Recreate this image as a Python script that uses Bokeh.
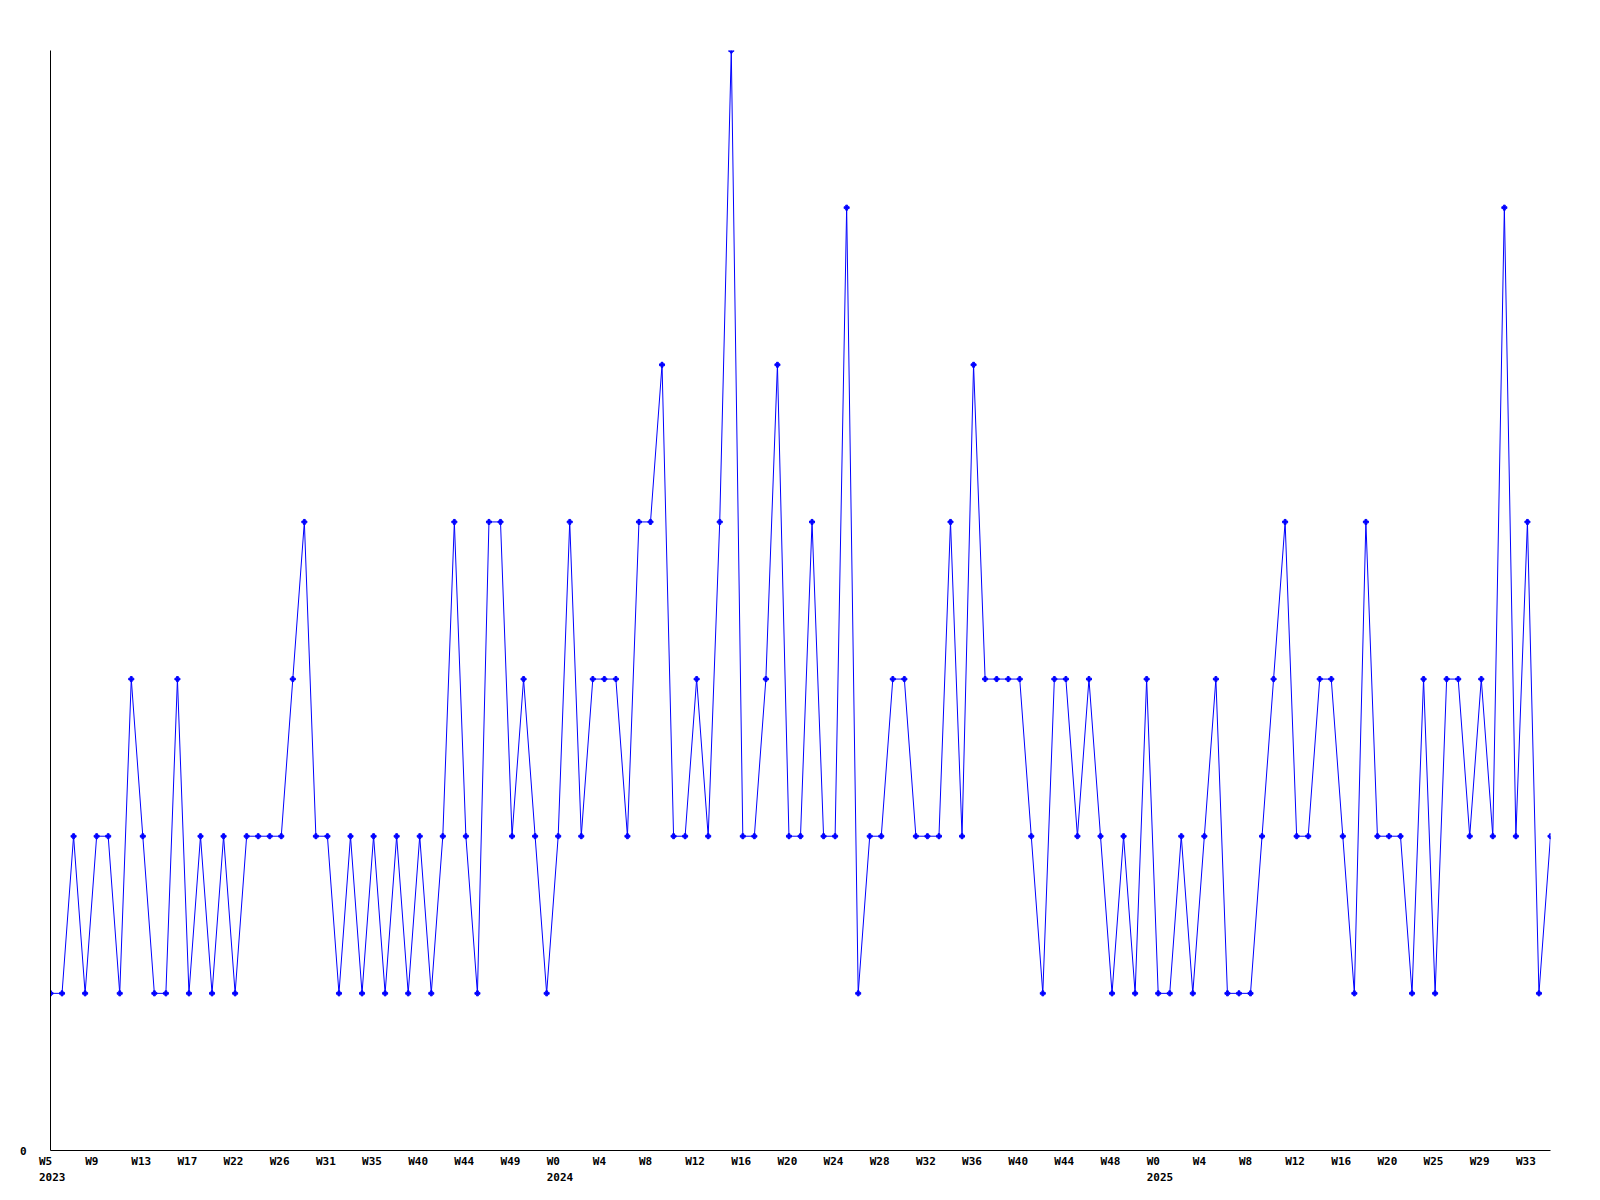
from bokeh.plotting import figure
from bokeh.models import Range1d, FixedTicker
from bokeh.embed import file_html
from bokeh.resources import INLINE

# ---- data ----
values = [1, 1, 2, 1, 2, 2, 1, 3, 2, 1, 1, 3, 1, 2, 1, 2, 1, 2, 2, 2,
          2, 3, 4, 2, 2, 1, 2, 1, 2, 1, 2, 1, 2, 1, 2, 4, 2, 1, 4,
          4, 2, 3, 2, 1, 2, 4, 2, 3, 3, 3, 2, 4, 4, 5, 2, 2, 3, 2,
          4, 7, 2, 2, 3, 5, 2, 2, 4, 2, 2, 6, 1, 2, 2, 3, 3, 2, 2,
          2, 4, 2, 5, 3, 3, 3, 3, 2, 1, 3, 3, 2, 3, 2, 1, 2, 1, 3,
          1, 1, 2, 1, 2, 3, 1, 1, 1, 2, 3, 4, 2, 2, 3, 3, 2, 1, 4,
          2, 2, 2, 1, 3, 1, 3, 3, 2, 3, 2, 6, 2, 4, 1, 2]

tick_index = list(range(0, 129, 4))
week_labels = ["W5", "W9", "W13", "W17", "W22", "W26", "W31", "W35", "W40", "W44", "W49",
               "W0", "W4", "W8", "W12", "W16", "W20", "W24", "W28", "W32", "W36", "W40",
               "W44", "W48",
               "W0", "W4", "W8", "W12", "W16", "W20", "W25", "W29", "W33"]
year_at = {0: "2023", 44: "2024", 96: "2025"}
y_ticks = [0]

x = list(range(len(values)))

FONT = "DejaVu Sans Mono"
LABEL_SHIFT = 0.15  # shift so the left-aligned label block starts left of the point

p = figure(frame_width=1500, frame_height=1100,
           x_range=Range1d(0, len(values) - 1), y_range=Range1d(0, 7),
           output_backend="svg", toolbar_location=None,
           min_border_left=50, min_border_right=10,
           min_border_top=50, min_border_bottom=40,
           background_fill_color="white", border_fill_color="white")
p.outline_line_color = None
p.grid.visible = False

p.line(x, values, line_color="#0000FF", line_width=1)
p.scatter(x, values, marker="plus", size=5, color="#0000FF")

ticks = [t + LABEL_SHIFT for t in tick_index]
overrides = {}
for t, tk, w in zip(tick_index, ticks, week_labels):
    txt = f"{w:<4}"
    if t in year_at:
        txt += "\n" + year_at[t]
    overrides[tk] = txt

xa = p.xaxis[0]
xa.ticker = FixedTicker(ticks=ticks, minor_ticks=[])
xa.major_label_overrides = overrides
xa.major_tick_out = 0
xa.major_tick_in = 0
xa.minor_tick_out = 0
xa.minor_tick_in = 0
xa.axis_line_color = "black"
xa.major_label_standoff = 4
xa.major_label_text_font = FONT
xa.major_label_text_font_style = "bold"
xa.major_label_text_font_size = "11px"
xa.major_label_text_color = "black"
xa.major_label_text_line_height = 1.28

ya = p.yaxis[0]
ya.ticker = FixedTicker(ticks=y_ticks, minor_ticks=[])
ya.major_tick_out = 0
ya.major_tick_in = 0
ya.minor_tick_out = 0
ya.minor_tick_in = 0
ya.axis_line_color = "black"
ya.major_label_standoff = 24
ya.major_label_text_font = FONT
ya.major_label_text_font_style = "bold"
ya.major_label_text_font_size = "11px"
ya.major_label_text_color = "black"

open("out.html", "w").write(file_html(p, INLINE))
